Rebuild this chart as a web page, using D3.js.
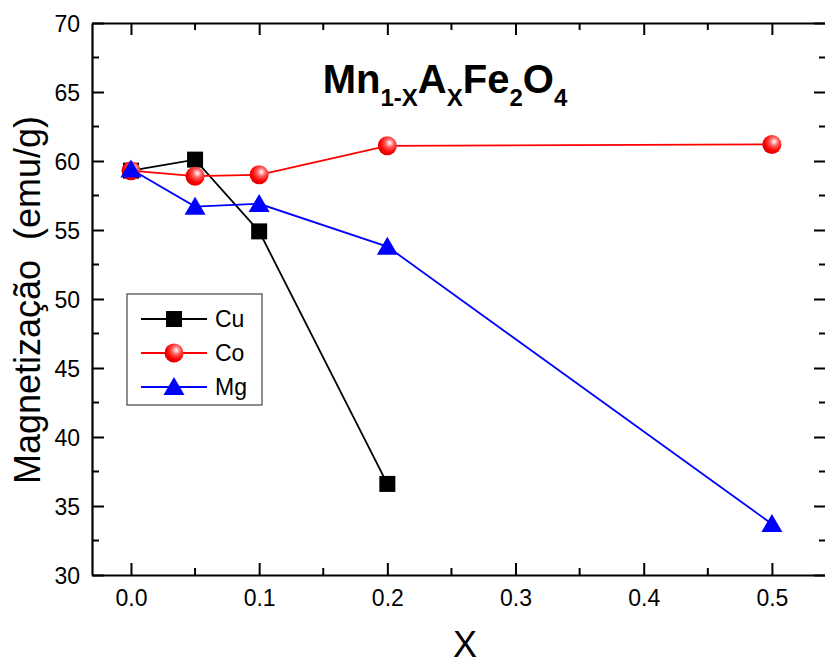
<!DOCTYPE html>
<html>
<head>
<meta charset="utf-8">
<script src="https://cdn.jsdelivr.net/npm/d3@7"></script>
<style>
  html, body { margin: 0; padding: 0; background: #fff; }
  svg { display: block; font-family: "Liberation Sans", Arial, sans-serif; }
</style>
</head>
<body>
<svg id="chart" width="825" height="660"></svg>
<script>
// Composition x and saturation magnetization (emu/g) for each substituent
const cuX = [0, 0.05, 0.1, 0.2];
const cuM = [59.3, 60.1, 54.9, 36.6];
const coX = [0, 0.05, 0.1, 0.2, 0.5];
const coM = [59.3, 58.9, 59.0, 61.1, 61.2];
const mgX = [0, 0.05, 0.1, 0.2, 0.5];
const mgM = [59.4, 56.7, 56.9, 53.8, 33.7];
const seriesNames = ["Cu", "Co", "Mg"];
const xTicks = [0.0, 0.1, 0.2, 0.3, 0.4, 0.5];
const yTicks = [30, 35, 40, 45, 50, 55, 60, 65, 70];

const svg = d3.select("#chart");
const plotLeft = 92, plotRight = 826, plotTop = 23, plotBottom = 575;

const x = d3.scaleLinear().domain([-0.0304, 0.5422]).range([plotLeft, plotRight]);
const y = d3.scaleLinear().domain([30, 70]).range([plotBottom, plotTop]);

// gradient for the shaded sphere markers
const defs = svg.append("defs");
const grad = defs.append("radialGradient").attr("id", "sphere")
  .attr("cx", "0.62").attr("cy", "0.35").attr("r", "0.65").attr("fx", "0.62").attr("fy", "0.35");
grad.append("stop").attr("offset", "0").attr("stop-color", "#ffffff");
grad.append("stop").attr("offset", "0.35").attr("stop-color", "#ff6060");
grad.append("stop").attr("offset", "0.75").attr("stop-color", "#ff0000");
grad.append("stop").attr("offset", "1").attr("stop-color", "#e00000");

const minorX = [0.05, 0.15, 0.25, 0.35, 0.45];
const minorY = [32.5, 37.5, 42.5, 47.5, 52.5, 57.5, 62.5, 67.5];

// axes (ticks point inward on all four sides)
const axisG = svg.append("g");
const bottomAxis = d3.axisBottom(x).tickValues(xTicks).tickFormat(d3.format(".1f")).tickSizeInner(-12).tickSizeOuter(0).tickPadding(15);
const gB = axisG.append("g").attr("transform", `translate(0,${plotBottom})`).call(bottomAxis);
gB.append("g").selectAll("line").data(minorX).join("line")
  .attr("x1", d => x(d)).attr("x2", d => x(d)).attr("y1", 0).attr("y2", -7);

const topAxis = d3.axisTop(x).tickValues(xTicks).tickFormat("").tickSizeInner(-12).tickSizeOuter(0);
const gT = axisG.append("g").attr("transform", `translate(0,${plotTop})`).call(topAxis);
gT.append("g").selectAll("line").data(minorX).join("line")
  .attr("x1", d => x(d)).attr("x2", d => x(d)).attr("y1", 0).attr("y2", 7);

const leftAxis = d3.axisLeft(y).tickValues(yTicks).tickFormat(d3.format("d")).tickSizeInner(-12).tickSizeOuter(0).tickPadding(12);
const gL = axisG.append("g").attr("transform", `translate(${plotLeft},0)`).call(leftAxis);
gL.append("g").selectAll("line").data(minorY).join("line")
  .attr("y1", d => y(d)).attr("y2", d => y(d)).attr("x1", 0).attr("x2", 7);

const rightAxis = d3.axisRight(y).tickValues(yTicks).tickFormat("").tickSizeInner(-12).tickSizeOuter(0);
const gR = axisG.append("g").attr("transform", `translate(${plotRight},0)`).call(rightAxis);
gR.append("g").selectAll("line").data(minorY).join("line")
  .attr("y1", d => y(d)).attr("y2", d => y(d)).attr("x1", 0).attr("x2", -7);

axisG.selectAll(".domain").attr("stroke", "#000").attr("stroke-width", 2.2);
axisG.selectAll("line").attr("stroke", "#000").attr("stroke-width", 2);
axisG.selectAll("text").attr("font-size", 23).attr("fill", "#000")
  .attr("font-family", "'Liberation Sans', Arial, sans-serif");
gL.selectAll(".tick text").attr("dy", "0.36em");

// series
const series = [
  { name: seriesNames[0], xs: cuX, ys: cuM, color: "#000000", shape: "square" },
  { name: seriesNames[1], xs: coX, ys: coM, color: "#ff0000", shape: "circle" },
  { name: seriesNames[2], xs: mgX, ys: mgM, color: "#0000ff", shape: "triangle" }
];

function drawMarker(g, shape, cx, cy) {
  if (shape === "square") {
    g.append("rect").attr("x", cx - 8).attr("y", cy - 8).attr("width", 16).attr("height", 16).attr("fill", "#000");
  } else if (shape === "circle") {
    g.append("circle").attr("cx", cx).attr("cy", cy).attr("r", 9.5).attr("fill", "url(#sphere)");
  } else {
    const h = 18, w = 21;
    g.append("path")
      .attr("d", `M${cx},${cy - h * 0.55} L${cx + w / 2},${cy + h * 0.45} L${cx - w / 2},${cy + h * 0.45} Z`)
      .attr("fill", "#0000ff");
  }
}

const line = d3.line().x(d => x(d[0])).y(d => y(d[1]));
const plot = svg.append("g");
series.forEach(s => {
  const pts = s.xs.map((v, i) => [v, s.ys[i]]);
  plot.append("path").datum(pts).attr("d", line)
    .attr("fill", "none").attr("stroke", s.color).attr("stroke-width", 1.8);
});
series.forEach(s => {
  const g = plot.append("g");
  s.xs.forEach((v, i) => drawMarker(g, s.shape, x(v), y(s.ys[i])));
});

// legend
const lg = svg.append("g");
lg.append("rect").attr("x", 127).attr("y", 294).attr("width", 135).attr("height", 111)
  .attr("fill", "#fff").attr("stroke", "#444").attr("stroke-width", 1.2);
series.forEach((s, i) => {
  const ly = 319 + i * 34;
  lg.append("line").attr("x1", 141).attr("x2", 207).attr("y1", ly).attr("y2", ly)
    .attr("stroke", s.color).attr("stroke-width", 1.8);
  drawMarker(lg, s.shape, 174, ly);
  lg.append("text").attr("x", 215).attr("y", ly).attr("dy", "0.36em")
    .attr("font-size", 23).attr("fill", "#000").text(s.name);
});

// title: Mn(1-X) A(X) Fe2 O4
const title = svg.append("text").attr("x", 445).attr("y", 93).attr("text-anchor", "middle")
  .attr("font-size", 40).attr("font-weight", "bold").attr("fill", "#000");
const parts = [["Mn", 0], ["1-X", 1], ["A", 0], ["X", 1], ["Fe", 0], ["2", 1], ["O", 0], ["4", 1]];
let prevSub = false;
parts.forEach(([t, sub]) => {
  const ts = title.append("tspan").text(t);
  if (sub) {
    ts.attr("font-size", 24).attr("dy", prevSub ? 0 : 13);
  } else {
    ts.attr("dy", prevSub ? -13 : 0);
  }
  prevSub = !!sub;
});

// axis titles
svg.append("text").attr("x", 465).attr("y", 657).attr("text-anchor", "middle")
  .attr("font-size", 36).attr("fill", "#000").text("X");
svg.append("text").attr("transform", `translate(40,300) rotate(-90)`)
  .attr("text-anchor", "middle").attr("font-size", 36).attr("fill", "#000")
  .attr("xml:space", "preserve").style("white-space", "pre")
  .text("Magnetização  (emu/g)");
</script>
</body>
</html>
